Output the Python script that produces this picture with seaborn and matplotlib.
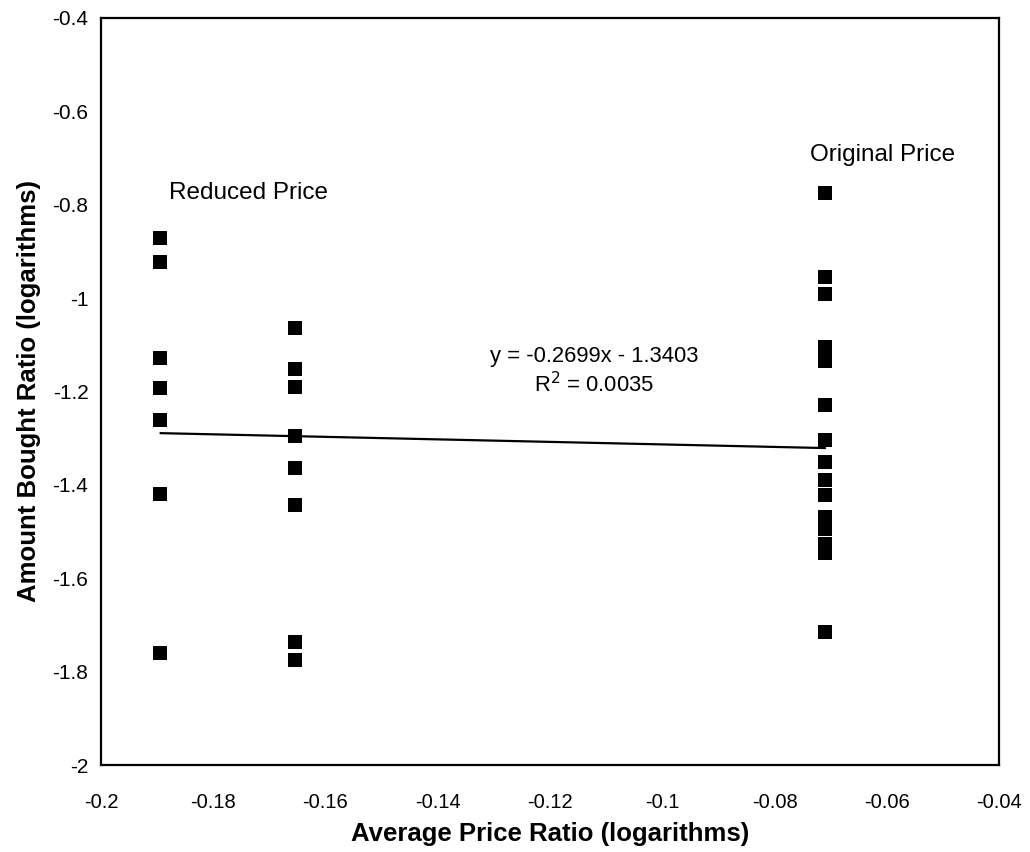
import numpy as np
import pandas as pd
import matplotlib
matplotlib.use("Agg")
import matplotlib.pyplot as plt
import seaborn as sns

# Average price ratio (log) for each price condition
x_reduced_a = -0.1894
x_reduced_b = -0.1654
x_original = -0.0710

# Amount bought ratio (log) observations per condition
y_reduced_a = [-0.872, -0.922, -1.129, -1.193, -1.260, -1.420, -1.759]
y_reduced_b = [-1.065, -1.152, -1.190, -1.295, -1.363, -1.442, -1.737, -1.774]
y_original = [-0.775, -0.954, -0.991, -1.105, -1.134, -1.229, -1.304, -1.352,
              -1.390, -1.422, -1.469, -1.494, -1.527, -1.546, -1.716]

# Linear trend reported on the chart
slope = -0.2699
intercept = -1.3403
r_squared = 0.0035

x_ticks = [-0.2, -0.18, -0.16, -0.14, -0.12, -0.1, -0.08, -0.06, -0.04]
x_tick_labels = ["-0.2", "-0.18", "-0.16", "-0.14", "-0.12", "-0.1", "-0.08", "-0.06", "-0.04"]
y_ticks = [-2, -1.8, -1.6, -1.4, -1.2, -1, -0.8, -0.6, -0.4]
y_tick_labels = ["-2", "-1.8", "-1.6", "-1.4", "-1.2", "-1", "-0.8", "-0.6", "-0.4"]

df = pd.DataFrame({
    "price": [x_reduced_a] * len(y_reduced_a) + [x_reduced_b] * len(y_reduced_b)
             + [x_original] * len(y_original),
    "amount": y_reduced_a + y_reduced_b + y_original,
})

sns.set_theme(style="white")
plt.rcParams["font.family"] = ["Liberation Sans", "DejaVu Sans"]

fig = plt.figure(figsize=(10.3, 8.52), dpi=100)
ax = fig.add_axes([0.098, 0.102, 0.872, 0.877])

sns.scatterplot(data=df, x="price", y="amount", marker="s", s=95,
                color="black", edgecolor="black", linewidth=0, ax=ax, zorder=3)

# Trend line across the observed price range
line_x = np.array([df["price"].min(), df["price"].max()])
line_y = slope * line_x + intercept
sns.lineplot(x=line_x, y=line_y, color="black", linewidth=1.6, ax=ax, zorder=2)

ax.set_xlim(-0.2, -0.04)
ax.set_ylim(-2, -0.4)
ax.set_xticks(x_ticks)
ax.set_xticklabels(x_tick_labels)
ax.set_yticks(y_ticks)
ax.set_yticklabels(y_tick_labels)
ax.tick_params(axis="x", length=0, pad=20, labelsize=14.5, colors="black")
ax.tick_params(axis="y", length=0, pad=9, labelsize=15, colors="black")

for spine in ax.spines.values():
    spine.set_color("black")
    spine.set_linewidth(1.6)

ax.set_xlabel("Average Price Ratio (logarithms)", fontsize=18.5, fontweight="bold",
              color="black", labelpad=7)
ax.set_ylabel("Amount Bought Ratio (logarithms)", fontsize=18.5, fontweight="bold",
              color="black", labelpad=8)

ax.text(-0.1738, -0.775, "Reduced Price", fontsize=17.5, ha="center", va="center", color="black")
ax.text(-0.0607, -0.693, "Original Price", fontsize=17.5, ha="center", va="center", color="black")
ax.text(-0.1121, -1.126, f"y = {slope}x - {abs(intercept)}", fontsize=15.8,
        ha="center", va="center", color="black")
ax.text(-0.1121, -1.186, f"R$^2$ = {r_squared}", fontsize=15.8,
        ha="center", va="center", color="black")

ax.grid(False)
fig.savefig("out.png", dpi=100, facecolor="white")
